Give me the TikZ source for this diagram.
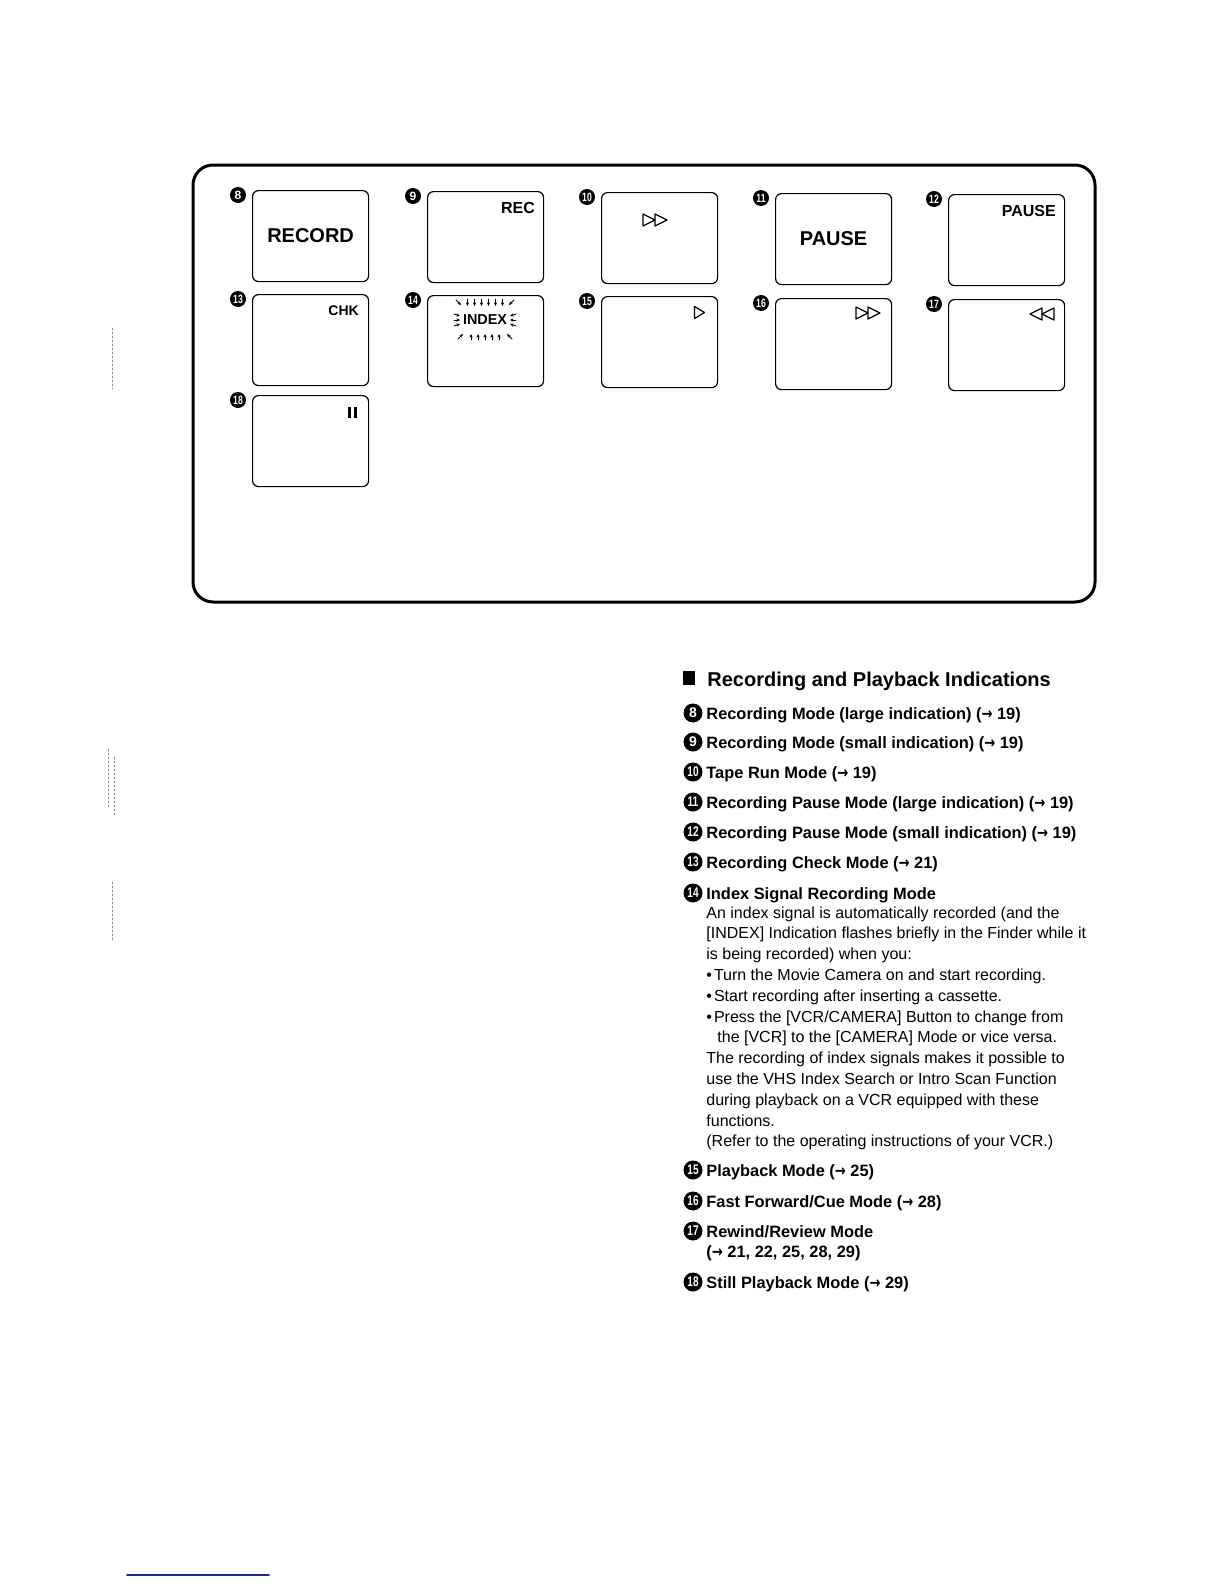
\documentclass[tikz,border=0pt]{standalone}
\usepackage{fontspec}
\setmainfont{Liberation Sans}
\newfontfamily\arrowfont{DejaVu Sans}
\usetikzlibrary{arrows.meta}
\definecolor{scanblue}{RGB}{30,40,140}
\newcommand{\pg}{{\arrowfont\bfseries\scalebox{.8}[1]{→}}}

\begin{document}
\begin{tikzpicture}[x=0.5pt,y=-0.5pt,line cap=round,line join=round,
  screen/.style={draw,line width=0.6pt,rounded corners=3pt,minimum width=58pt,minimum height=45.5pt,anchor=north west,inner sep=0pt},
  num/.style={circle,fill=black,text=white,inner sep=0pt,minimum size=8pt,font=\fontsize{6}{6}\selectfont\bfseries},
  lnum/.style={num,minimum size=9.5pt,font=\fontsize{7}{7}\selectfont\bfseries},
  biglbl/.style={inner sep=0pt,font=\fontsize{10}{10}\selectfont\bfseries},
  lbl/.style={inner sep=0pt,anchor=east,font=\fontsize{8}{8}\selectfont\bfseries},
  item/.style={inner sep=0pt,anchor=base west,font=\fontsize{8.2}{10}\selectfont\bfseries},
  body/.style={inner sep=0pt,anchor=base west,font=\fontsize{8}{9}\selectfont},
  ray/.style={line width=0.4pt,-{Stealth[length=1.8pt,width=1.6pt]}},
  icon/.style={line width=0.6pt},
  speck/.style={black!45,line width=0.3pt,dash pattern=on 1pt off 1pt},
  ff/.pic={\draw[icon] (-12,-6) -- (0,0) -- (-12,6) -- cycle; \draw[icon] (0,-6) -- (12,0) -- (0,6) -- cycle;},
  rw/.pic={\draw[icon] (12,-6) -- (0,0) -- (12,6) -- cycle; \draw[icon] (0,-6) -- (-12,0) -- (0,6) -- cycle;},
  pl/.pic={\draw[icon] (-5,-6) -- (5,0) -- (-5,6) -- cycle;}]
\useasboundingbox (0,0) rectangle (1224,1584);
% outer frame
\draw[line width=1.5pt,rounded corners=10pt] (193,165) rectangle (1095,602);
% screens
\node[screen] (b8) at (252,190) {};
\node[screen] (b9) at (427,191) {};
\node[screen] (b10) at (601,192) {};
\node[screen] (b11) at (775,193) {};
\node[screen] (b12) at (948,194) {};
\node[screen] (b13) at (252,294) {};
\node[screen] (b14) at (427,295) {};
\node[screen] (b15) at (601,296) {};
\node[screen] (b16) at (775,298) {};
\node[screen] (b17) at (948,299) {};
\node[screen] (b18) at (252,395) {};
\node[num] (n8) at ([shift={(-14,5)}]b8.north west) {8};
\node[num] (n9) at ([shift={(-14,5)}]b9.north west) {9};
\node[num] (n10) at ([shift={(-14,5)}]b10.north west) {\scalebox{.72}[1]{10}};
\node[num] (n11) at ([shift={(-14,5)}]b11.north west) {\scalebox{.72}[1]{11}};
\node[num] (n12) at ([shift={(-14,5)}]b12.north west) {\scalebox{.72}[1]{12}};
\node[num] (n13) at ([shift={(-14,5)}]b13.north west) {\scalebox{.72}[1]{13}};
\node[num] (n14) at ([shift={(-14,5)}]b14.north west) {\scalebox{.72}[1]{14}};
\node[num] (n15) at ([shift={(-14,5)}]b15.north west) {\scalebox{.72}[1]{15}};
\node[num] (n16) at ([shift={(-14,5)}]b16.north west) {\scalebox{.72}[1]{16}};
\node[num] (n17) at ([shift={(-14,5)}]b17.north west) {\scalebox{.72}[1]{17}};
\node[num] (n18) at ([shift={(-14,5)}]b18.north west) {\scalebox{.72}[1]{18}};
% screen contents
\node[biglbl] (rec) at (b8.center) {RECORD};
\node[lbl] (rsm) at ([shift={(-9,17)}]b9.north east) {REC};
\pic at ([shift={(54,28)}]b10.north west) {ff};
\node[biglbl] (pbig) at (b11.center) {PAUSE};
\node[lbl] (psm) at ([shift={(-9,17)}]b12.north east) {PAUSE};
\node[lbl,font=\fontsize{7}{7}\selectfont\bfseries] (chk) at ([shift={(-10,17)}]b13.north east) {CHK};
\node[inner sep=0pt,font=\fontsize{7.2}{7.2}\selectfont\bfseries] (ix) at ([shift={(58,25)}]b14.north west) {INDEX};
\begin{scope}[shift={(ix.center)}]
\draw[ray] (-17.5,-21) -- (-17.5,-14); \draw[ray] (-10.5,-21) -- (-10.5,-14); \draw[ray] (-3.5,-21) -- (-3.5,-14);
\draw[ray] (3.5,-21) -- (3.5,-14); \draw[ray] (10.5,-21) -- (10.5,-14); \draw[ray] (17.5,-21) -- (17.5,-14);
\draw[ray] (-29,-20) -- (-24,-15); \draw[ray] (29,-20) -- (24,-15);
\draw[ray] (-14,20) -- (-14,14); \draw[ray] (-7,20) -- (-7,14); \draw[ray] (0,20) -- (0,14);
\draw[ray] (7,20) -- (7,14); \draw[ray] (14,20) -- (14,14);
\draw[ray] (-27,19) -- (-22,14); \draw[ray] (27,19) -- (22,14);
\draw[ray] (-31,-6) -- (-25,-4); \draw[ray] (-31,0) -- (-25,0); \draw[ray] (-31,6) -- (-25,4);
\draw[ray] (31,-6) -- (25,-4); \draw[ray] (31,0) -- (25,0); \draw[ray] (31,6) -- (25,4);
\end{scope}
\pic at ([shift={(98.5,16.5)}]b15.north west) {pl};
\pic at ([shift={(93,15)}]b16.north west) {ff};
\pic at ([shift={(94,15)}]b17.north west) {rw};
\fill ([shift={(96,12)}]b18.north west) rectangle ([shift={(99,23)}]b18.north west);
\fill ([shift={(102,12)}]b18.north west) rectangle ([shift={(105,23)}]b18.north west);
% list of indications
\fill (683,671) rectangle (695,685);
\node[item,font=\fontsize{10}{12}\selectfont\bfseries] (head) at (707,686) {Recording and Playback Indications};
\node[lnum] (c8) at (693,713) {8};
\node[item] (t8) at (706,719) {Recording Mode (large indication) (\pg\ 19)};
\node[lnum] (c9) at (693,742) {9};
\node[item] (t9) at (706,748) {Recording Mode (small indication) (\pg\ 19)};
\node[lnum] (c10) at (693,772) {\scalebox{.72}[1]{10}};
\node[item] (t10) at (706,778) {Tape Run Mode (\pg\ 19)};
\node[lnum] (c11) at (693,802) {\scalebox{.72}[1]{11}};
\node[item] (t11) at (706,808) {Recording Pause Mode (large indication) (\pg\ 19)};
\node[lnum] (c12) at (693,832) {\scalebox{.72}[1]{12}};
\node[item] (t12) at (706,838) {Recording Pause Mode (small indication) (\pg\ 19)};
\node[lnum] (c13) at (693,862) {\scalebox{.72}[1]{13}};
\node[item] (t13) at (706,868) {Recording Check Mode (\pg\ 21)};
\node[lnum] (c14) at (693,893) {\scalebox{.72}[1]{14}};
\node[item] (t14) at (706,899) {Index Signal Recording Mode};
\node[body] (p1) at (706,918) {An index signal is automatically recorded (and the};
\node[body] (p2) at (706,938.8) {[INDEX] Indication flashes briefly in the Finder while it};
\node[body] (p3) at (706,959.6) {is being recorded) when you:};
\node[body] (p4) at (706,980.4) {\textbullet\hspace{1pt}Turn the Movie Camera on and start recording.};
\node[body] (p5) at (706,1001.2) {\textbullet\hspace{1pt}Start recording after inserting a cassette.};
\node[body] (p6) at (706,1022) {\textbullet\hspace{1pt}Press the [VCR/CAMERA] Button to change from};
\node[body] (p7) at (717,1042.8) {the [VCR] to the [CAMERA] Mode or vice versa.};
\node[body] (p8) at (706,1063.6) {The recording of index signals makes it possible to};
\node[body] (p9) at (706,1084.4) {use the VHS Index Search or Intro Scan Function};
\node[body] (p10) at (706,1105.2) {during playback on a VCR equipped with these};
\node[body] (p11) at (706,1126) {functions.};
\node[body] (p12) at (706,1146.8) {(Refer to the operating instructions of your VCR.)};
\node[lnum] (c15) at (693,1170) {\scalebox{.72}[1]{15}};
\node[item] (t15) at (706,1176) {Playback Mode (\pg\ 25)};
\node[lnum] (c16) at (693,1201) {\scalebox{.72}[1]{16}};
\node[item] (t16) at (706,1207) {Fast Forward/Cue Mode (\pg\ 28)};
\node[lnum] (c17) at (693,1231) {\scalebox{.72}[1]{17}};
\node[item] (t17) at (706,1237) {Rewind/Review Mode};
\node[item] (t17b) at (706,1257) {(\pg\ 21, 22, 25, 28, 29)};
\node[lnum] (c18) at (693,1282) {\scalebox{.72}[1]{18}};
\node[item] (t18) at (706,1288) {Still Playback Mode (\pg\ 29)};
% scan marks
\draw[speck] (112,328) -- (112,389);
\draw[speck] (108,749) -- (108,807);
\draw[speck] (114,757) -- (114,817);
\draw[speck] (112,882) -- (112,942);
\draw[scanblue,line width=0.8pt] (127,1575) -- (269,1575);
\end{tikzpicture}
\end{document}
